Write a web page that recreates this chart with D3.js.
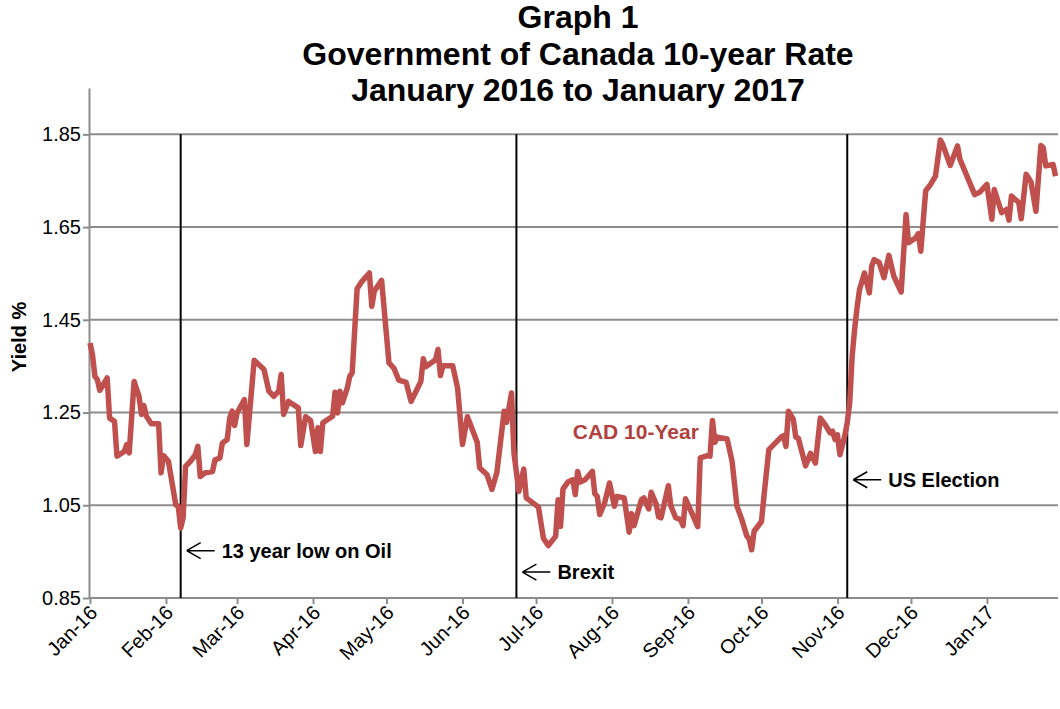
<!DOCTYPE html>
<html>
<head>
  <meta charset="UTF-8" />
  <title>Government of Canada 10-year Rate</title>
  <style>
    body { margin: 0; background: #fff; font-family: "Liberation Sans", Arial, Helvetica, sans-serif; }
    .grid line { stroke: #8c8c8c; stroke-width: 2; }
    .axis path, .axis line { stroke: #8c8c8c; stroke-width: 2; }
    .axis text { font-size: 20px; fill: #000; }
  </style>
  <script src="https://d3js.org/d3.v7.min.js"></script>
</head>
<body>
  <div id="chart"></div>
  <script>
    // dates of the plotted points
    const dates = [
      "2016-01-01", "2016-01-02", "2016-01-03", "2016-01-04", "2016-01-05", "2016-01-08", "2016-01-09", "2016-01-11",
      "2016-01-12", "2016-01-15", "2016-01-16", "2016-01-17", "2016-01-19", "2016-01-21", "2016-01-22", "2016-01-23",
      "2016-01-24", "2016-01-26", "2016-01-29", "2016-01-30", "2016-01-31", "2016-02-02", "2016-02-05", "2016-02-06",
      "2016-02-07", "2016-02-08", "2016-02-09", "2016-02-11", "2016-02-13", "2016-02-14", "2016-02-15", "2016-02-17",
      "2016-02-20", "2016-02-21", "2016-02-23", "2016-02-24", "2016-02-26", "2016-02-27", "2016-02-28", "2016-02-29",
      "2016-03-01", "2016-03-04", "2016-03-05", "2016-03-08", "2016-03-12", "2016-03-14", "2016-03-16", "2016-03-18",
      "2016-03-19", "2016-03-20", "2016-03-22", "2016-03-26", "2016-03-27", "2016-03-29", "2016-03-31", "2016-04-02",
      "2016-04-03", "2016-04-04", "2016-04-05", "2016-04-09", "2016-04-10", "2016-04-11", "2016-04-12", "2016-04-13",
      "2016-04-15", "2016-04-16", "2016-04-17", "2016-04-19", "2016-04-21", "2016-04-24", "2016-04-25", "2016-04-26",
      "2016-04-29", "2016-05-02", "2016-05-04", "2016-05-06", "2016-05-09", "2016-05-11", "2016-05-15", "2016-05-16",
      "2016-05-17", "2016-05-21", "2016-05-22", "2016-05-23", "2016-05-24", "2016-05-28", "2016-05-30", "2016-06-01",
      "2016-06-03", "2016-06-07", "2016-06-08", "2016-06-11", "2016-06-13", "2016-06-15", "2016-06-18", "2016-06-19",
      "2016-06-21", "2016-06-22", "2016-06-24", "2016-06-26", "2016-06-27", "2016-07-02", "2016-07-04", "2016-07-06",
      "2016-07-09", "2016-07-10", "2016-07-11", "2016-07-12", "2016-07-14", "2016-07-16", "2016-07-17", "2016-07-18",
      "2016-07-19", "2016-07-21", "2016-07-24", "2016-07-25", "2016-07-26", "2016-07-27", "2016-07-29", "2016-07-31",
      "2016-08-02", "2016-08-03", "2016-08-06", "2016-08-08", "2016-08-09", "2016-08-10", "2016-08-13", "2016-08-14",
      "2016-08-16", "2016-08-17", "2016-08-19", "2016-08-20", "2016-08-21", "2016-08-24", "2016-08-25", "2016-08-27",
      "2016-08-29", "2016-08-30", "2016-08-31", "2016-09-02", "2016-09-05", "2016-09-06", "2016-09-09", "2016-09-10",
      "2016-09-11", "2016-09-12", "2016-09-13", "2016-09-17", "2016-09-19", "2016-09-21", "2016-09-23", "2016-09-25",
      "2016-09-26", "2016-09-27", "2016-09-28", "2016-09-30", "2016-10-01", "2016-10-02", "2016-10-04", "2016-10-09",
      "2016-10-10", "2016-10-11", "2016-10-12", "2016-10-14", "2016-10-15", "2016-10-16", "2016-10-19", "2016-10-21",
      "2016-10-23", "2016-10-25", "2016-10-27", "2016-10-29", "2016-10-30", "2016-10-31", "2016-11-01", "2016-11-02",
      "2016-11-04", "2016-11-05", "2016-11-06", "2016-11-07", "2016-11-08", "2016-11-09", "2016-11-10", "2016-11-12",
      "2016-11-14", "2016-11-15", "2016-11-16", "2016-11-18", "2016-11-20", "2016-11-22", "2016-11-24", "2016-11-27",
      "2016-11-29", "2016-11-30", "2016-12-03", "2016-12-04", "2016-12-05", "2016-12-07", "2016-12-09", "2016-12-11",
      "2016-12-13", "2016-12-14", "2016-12-17", "2016-12-20", "2016-12-21", "2016-12-27", "2016-12-29", "2017-01-01",
      "2017-01-03", "2017-01-04", "2017-01-07", "2017-01-09", "2017-01-10", "2017-01-11", "2017-01-14", "2017-01-15",
      "2017-01-17", "2017-01-19", "2017-01-21", "2017-01-23", "2017-01-24", "2017-01-25", "2017-01-28", "2017-01-29"
    ];

    // CAD 10-year yield, %
    const yields = [
      1.40, 1.375, 1.328, 1.321, 1.298, 1.325, 1.238, 1.231,
      1.156, 1.166, 1.181, 1.163, 1.317, 1.285, 1.246, 1.265,
      1.242, 1.226, 1.226, 1.120, 1.157, 1.145, 1.051, 1.048,
      1.001, 1.023, 1.134, 1.145, 1.159, 1.177, 1.112, 1.120,
      1.123, 1.148, 1.152, 1.184, 1.192, 1.238, 1.253, 1.222,
      1.249, 1.278, 1.181, 1.363, 1.343, 1.296, 1.285, 1.296,
      1.332, 1.246, 1.274, 1.260, 1.179, 1.241, 1.233, 1.166,
      1.217, 1.166, 1.228, 1.242, 1.294, 1.249, 1.296, 1.271,
      1.303, 1.328, 1.336, 1.517, 1.533, 1.551, 1.479, 1.512,
      1.535, 1.357, 1.346, 1.320, 1.315, 1.274, 1.317, 1.366,
      1.349, 1.364, 1.386, 1.330, 1.351, 1.351, 1.303, 1.181,
      1.241, 1.186, 1.131, 1.116, 1.084, 1.120, 1.253, 1.229,
      1.292, 1.163, 1.080, 1.128, 1.066, 1.046, 0.979, 0.963,
      0.983, 1.062, 1.004, 1.085, 1.100, 1.105, 1.073, 1.123,
      1.100, 1.105, 1.123, 1.075, 1.069, 1.030, 1.055, 1.098,
      1.048, 1.069, 1.066, 0.992, 1.032, 1.006, 1.062, 1.066,
      1.042, 1.078, 1.053, 1.025, 1.023, 1.092, 1.049, 1.023,
      1.019, 1.006, 1.064, 1.040, 1.004, 1.152, 1.157, 1.156,
      1.233, 1.186, 1.197, 1.193, 1.145, 1.048, 1.019, 0.984,
      0.977, 0.954, 0.994, 1.008, 1.015, 1.069, 1.170, 1.197,
      1.200, 1.177, 1.253, 1.235, 1.197, 1.195, 1.135, 1.162,
      1.141, 1.238, 1.224, 1.206, 1.210, 1.192, 1.202, 1.159,
      1.200, 1.228, 1.271, 1.371, 1.429, 1.476, 1.515, 1.551,
      1.508, 1.566, 1.580, 1.574, 1.541, 1.589, 1.544, 1.510,
      1.677, 1.616, 1.627, 1.636, 1.598, 1.728, 1.742, 1.760,
      1.838, 1.828, 1.783, 1.825, 1.796, 1.720, 1.725, 1.742,
      1.667, 1.731, 1.681, 1.688, 1.665, 1.717, 1.703, 1.668,
      1.764, 1.747, 1.684, 1.826, 1.821, 1.782, 1.785, 1.760
    ];

    const monthTicks = ["2016-01-01", "2016-02-01", "2016-03-01", "2016-04-01", "2016-05-01", "2016-06-01", "2016-07-01",
      "2016-08-01", "2016-09-01", "2016-10-01", "2016-11-01", "2016-12-01", "2017-01-01"];
    const yTicks = [0.85, 1.05, 1.25, 1.45, 1.65, 1.85];

    const events = ["2016-02-07", "2016-06-23", "2016-11-05"];
    const eventLabels = ["13 year low on Oil", "Brexit", "US Election"];
    const eventLabelY = [0.952, 0.906, 1.105];

    const titleLines = ["Graph 1", "Government of Canada 10-year Rate", "January 2016 to January 2017"];

    const W = 1060, H = 709;
    const parse = d3.timeParse("%Y-%m-%d");
    const data = dates.map((d, i) => ({ date: parse(d), value: yields[i] }));

    let svg = d3.select("#chart").append("svg")
      .attr("width", W).attr("height", H);

    let x = d3.scaleTime()
      .domain([parse("2016-01-01"), parse("2017-01-30")])
      .range([90, 1058]);
    let y = d3.scaleLinear().domain([0.85, 1.95]).range([598, 88]);

    /* Title */
    svg.append("g").selectAll("text")
      .data(titleLines).enter().append("text")
      .attr("x", 578).attr("y", (d, i) => 28 + i * 36.5)
      .attr("text-anchor", "middle")
      .style("font-size", "32px").style("font-weight", "bold")
      .text(d => d);

    /* gridlines */
    svg.append("g").attr("class", "grid")
      .selectAll("line").data(yTicks.slice(1)).enter().append("line")
      .attr("x1", 90).attr("x2", 1058)
      .attr("y1", d => y(d)).attr("y2", d => y(d));

    /* Y axis */
    let yAxis = svg.append("g").attr("class", "axis")
      .attr("transform", "translate(89,0)")
      .call(d3.axisLeft(y).tickValues(yTicks).tickFormat(d3.format(".2f")).tickSize(6).tickSizeOuter(0));
    yAxis.selectAll("text").attr("x", -8);

    /* X axis */
    let xAxis = svg.append("g").attr("class", "axis")
      .attr("transform", "translate(0,598)")
      .call(d3.axisBottom(x).tickValues(monthTicks.map(parse)).tickFormat(d3.timeFormat("%b-%y")).tickSize(6).tickSizeOuter(0));
    xAxis.select(".domain").attr("d", "M89,0H1058");
    xAxis.selectAll("text")
      .attr("text-anchor", "end")
      .attr("dy", null)
      .attr("y", 0)
      .attr("transform", "translate(8,16) rotate(-45)");

    svg.append("text")
      .attr("transform", "translate(26,337) rotate(-90)")
      .attr("text-anchor", "middle")
      .style("font-size", "20px").style("font-weight", "bold")
      .text("Yield %");

    /* event lines */
    svg.append("g").selectAll("line").data(events).enter().append("line")
      .attr("x1", d => x(parse(d))).attr("x2", d => x(parse(d)))
      .attr("y1", y(1.85)).attr("y2", y(0.85))
      .attr("stroke", "#000").attr("stroke-width", 2);

    /* the series */
    let line = d3.line().x(d => x(d.date)).y(d => y(d.value));
    svg.append("path").datum(data)
      .attr("d", line)
      .attr("fill", "none")
      .attr("stroke", "#c0504d")
      .attr("stroke-width", 5.5)
      .attr("stroke-linejoin", "round");

    svg.append("text")
      .attr("x", x(parse("2016-07-16"))).attr("y", y(1.194))
      .style("font-size", "21px").style("font-weight", "bold")
      .style("fill", "#b0413e")
      .text("CAD 10-Year");

    /* annotations with open arrows */
    let ann = svg.append("g").selectAll("g").data(events).enter().append("g")
      .attr("transform", (d, i) => "translate(" + (x(parse(d)) + 6) + "," + y(eventLabelY[i]) + ")");
    ann.append("path")
      .attr("d", "M0,0H28M0,0L14,-8M0,0L14,8")
      .attr("fill", "none").attr("stroke", "#000").attr("stroke-width", 1.5);
    ann.append("text")
      .attr("x", 35).attr("y", 7)
      .style("font-size", "20px").style("font-weight", "bold")
      .text((d, i) => eventLabels[i]);
  </script>
</body>
</html>
